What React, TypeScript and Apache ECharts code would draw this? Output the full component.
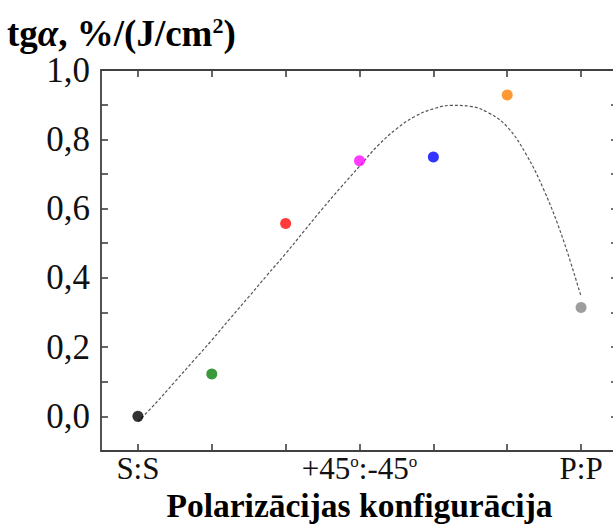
import React, { useEffect, useRef } from "react";
import * as echarts from "echarts";

const categories = ["S:S", "", "", "+45°:-45°", "", "", "P:P"];
const pointX = [0, 1, 2, 3, 4, 5, 6];
const pointY = [0.0, 0.122, 0.557, 0.738, 0.749, 0.928, 0.314];
const pointColors = ["#000000", "#0a800a", "#ff0a0a", "#ff0aff", "#0000ff", "#ff8000", "#858585"];
const fitX = [0, 0.25, 0.5, 0.75, 1, 1.25, 1.5, 1.75, 2, 2.25, 2.5, 2.75, 3, 3.25, 3.5, 3.75, 4, 4.25, 4.5, 4.75, 5, 5.25, 5.5, 5.75, 6];
const fitY = [-0.015, 0.04, 0.1, 0.16, 0.22, 0.283, 0.345, 0.408, 0.47, 0.535, 0.6, 0.662, 0.722, 0.782, 0.83, 0.866, 0.888, 0.898, 0.895, 0.876, 0.836, 0.759, 0.652, 0.515, 0.346];
const yTicks = { min: -0.1, max: 1.0, interval: 0.1 };
const xTitle = "Polarizācijas konfigurācija";

const FONT = "Liberation Serif";

export default function App() {
  const ref = useRef<HTMLDivElement>(null);
  useEffect(() => {
    if (!ref.current) return;
    const chart = echarts.init(ref.current, null, { renderer: "svg" });
    const axisLine = { show: true, onZero: false, lineStyle: { color: "#404040", width: 1.8 } };
    const tick = { show: true, inside: true, length: 7, lineStyle: { color: "#404040", width: 1.6 } };
    const catLabel = (v: string) => {
      if (v === "+45°:-45°") return "{t|+45}{s|o}{t|:-45}{s|o}";
      if (!v) return "";
      return "{t|" + v + "}";
    };
    chart.setOption({
      animation: false,
      backgroundColor: "#ffffff",
      textStyle: { fontFamily: FONT },
      grid: { left: 101, top: 70, width: 517, height: 381, containLabel: false, outerBoundsMode: "none" },
      xAxis: [
        { type: "value", min: -0.5, max: 6.5, show: false, axisLine: { onZero: false } },
        {
          type: "category",
          position: "bottom",
          data: categories,
          boundaryGap: true,
          axisLine,
          axisTick: { ...tick, alignWithLabel: true, interval: 0 },
          axisLabel: {
            interval: 0,
            margin: 2,
            color: "#111",
            fontFamily: FONT,
            fontSize: 31,
            formatter: catLabel,
            rich: {
              t: { fontSize: 31, fontFamily: FONT, color: "#111" },
              s: { fontSize: 17, verticalAlign: "top", padding: [0, 0, 14, 0], fontFamily: FONT, color: "#111" },
            },
          },
          name: xTitle,
          nameLocation: "middle",
          nameGap: 33,
          nameTextStyle: { fontFamily: FONT, fontWeight: "bold", fontSize: 33.5, color: "#000" },
          splitLine: { show: false },
        },
        {
          type: "category",
          position: "top",
          data: categories,
          boundaryGap: true,
          axisLine,
          axisTick: { ...tick, alignWithLabel: true, interval: 0 },
          axisLabel: { show: false },
          splitLine: { show: false },
        },
      ],
      yAxis: [
        {
          type: "value",
          position: "left",
          min: yTicks.min,
          max: yTicks.max,
          interval: yTicks.interval,
          axisLine,
          axisTick: tick,
          splitLine: { show: false },
          axisLabel: {
            margin: 11,
            color: "#111",
            fontFamily: FONT,
            fontSize: 35,
            formatter: (v: number) => {
              const k = Math.round(v * 10);
              if (k < 0 || k % 2 !== 0) return "";
              return "{t|" + (k / 10).toFixed(1).replace(".", ",") + "}";
            },
            rich: { t: { fontSize: 35, fontFamily: FONT, color: "#111" } },
          },
        },
        {
          type: "value",
          position: "right",
          min: yTicks.min,
          max: yTicks.max,
          interval: yTicks.interval,
          axisLine,
          axisTick: tick,
          splitLine: { show: false },
          axisLabel: { show: false },
        },
      ],
      graphic: [
        {
          type: "text",
          left: 7,
          top: 14,
          style: {
            text: "{b|tg}{i|α}{b|, %/(J/cm}{sup|2}{b|)}",
            rich: {
              b: { fontFamily: FONT, fontWeight: "bold", fontSize: 37, fill: "#000" },
              i: { fontFamily: FONT, fontWeight: "bold", fontStyle: "italic", fontSize: 37, fill: "#000" },
              sup: { fontFamily: FONT, fontWeight: "bold", fontSize: 22, fill: "#000", verticalAlign: "top", padding: [0, 0, 16, 0] },
            },
          },
        },
      ],
      series: [
        {
          type: "line",
          xAxisIndex: 0,
          yAxisIndex: 0,
          data: fitX.map((x, i) => [x, fitY[i]]),
          smooth: 0.4,
          symbol: "none",
          lineStyle: { color: "#555", width: 1.2, type: [3, 2] },
          z: 2,
          silent: true,
        },
        {
          type: "scatter",
          xAxisIndex: 0,
          yAxisIndex: 0,
          symbolSize: 11,
          data: pointX.map((x, i) => ({ value: [x, pointY[i]], itemStyle: { color: pointColors[i] } })),
          z: 3,
        },
      ],
    });
    return () => chart.dispose();
  }, []);
  return <div ref={ref} style={{ position: "fixed", left: 0, top: 0, width: 613, height: 526 }} />;
}
